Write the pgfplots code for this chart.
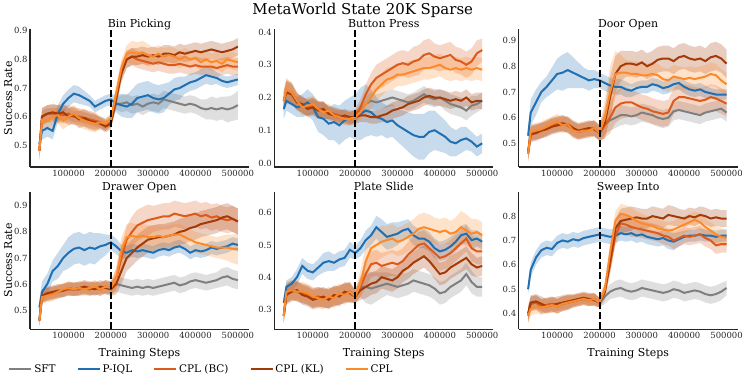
\documentclass[border=0pt]{standalone}
\usepackage{pgfplots}
\usepackage{pgfplotstable}
\pgfplotsset{compat=1.18}
\usepgfplotslibrary{fillbetween}
\usepackage{fontspec}
\setmainfont{DejaVu Serif}

\definecolor{csft}{HTML}{7F7F7F}
\definecolor{ciql}{HTML}{1F6FB2}
\definecolor{cbc}{HTML}{DC5A1A}
\definecolor{ckl}{HTML}{A33A08}
\definecolor{ccpl}{HTML}{FD8A2A}

% Bin Picking
\pgfplotstableread{
x sft sfts iql iqls bc bcs kl kls cpl cpls
31250 .48 .02 .505 .02 .48 .03 .48 .03 .48 .03
37500 .60 .02 .55 .03 .60 .03 .60 .03 .59 .03
50000 .61 .02 .56 .03 .61 .03 .61 .03 .585 .03
62500 .61 .02 .55 .03 .61 .03 .615 .03 .60 .03
75000 .61 .02 .61 .03 .61 .03 .61 .03 .605 .03
87500 .605 .02 .645 .03 .605 .03 .615 .03 .585 .03
100000 .61 .02 .665 .03 .61 .03 .60 .03 .60 .03
112500 .60 .02 .68 .03 .60 .03 .605 .03 .61 .03
125000 .60 .02 .675 .03 .60 .03 .59 .03 .595 .03
137500 .595 .02 .665 .025 .595 .03 .595 .03 .585 .03
150000 .59 .02 .655 .02 .59 .03 .585 .03 .58 .03
162500 .585 .02 .635 .02 .585 .03 .58 .03 .575 .03
175000 .58 .02 .645 .02 .58 .02 .575 .02 .58 .02
187500 .57 .02 .655 .02 .57 .02 .565 .02 .575 .02
200000 .585 .02 .66 .02 .585 .02 .575 .02 .59 .02
212500 .645 .02 .645 .03 .67 .03 .66 .03 .68 .03
225000 .645 .03 .64 .04 .76 .03 .75 .03 .77 .03
237500 .65 .03 .635 .04 .80 .03 .80 .03 .82 .03
250000 .64 .03 .645 .05 .81 .03 .81 .03 .825 .04
262500 .645 .03 .665 .05 .80 .03 .81 .03 .82 .04
275000 .635 .03 .67 .05 .795 .03 .815 .03 .825 .04
287500 .645 .03 .675 .05 .79 .03 .81 .03 .815 .04
300000 .65 .03 .665 .05 .785 .03 .815 .03 .81 .03
312500 .645 .03 .66 .05 .79 .03 .81 .03 .82 .03
325000 .66 .03 .665 .05 .785 .03 .82 .03 .81 .03
337500 .655 .03 .68 .04 .78 .03 .82 .03 .815 .03
350000 .65 .03 .695 .04 .78 .03 .815 .03 .81 .03
362500 .645 .03 .70 .04 .785 .03 .825 .03 .80 .03
375000 .64 .03 .71 .03 .78 .03 .82 .03 .81 .03
387500 .645 .03 .72 .03 .775 .03 .825 .03 .80 .03
400000 .64 .03 .725 .03 .78 .03 .83 .03 .805 .03
412500 .63 .03 .735 .03 .775 .03 .825 .03 .79 .03
425000 .625 .035 .745 .03 .775 .03 .83 .03 .80 .03
437500 .63 .04 .74 .03 .775 .03 .835 .03 .79 .03
450000 .625 .04 .735 .02 .77 .03 .83 .03 .795 .03
462500 .63 .04 .725 .02 .775 .03 .825 .03 .785 .03
475000 .625 .045 .72 .02 .78 .03 .83 .03 .80 .03
487500 .63 .045 .725 .02 .775 .03 .835 .03 .795 .03
500000 .64 .05 .73 .02 .775 .03 .845 .03 .79 .03
}\tA

% Button Press
\pgfplotstableread{
x sft sfts iql iqls bc bcs kl kls cpl cpls
31250 .19 .02 .165 .03 .19 .03 .19 .03 .19 .03
37500 .22 .03 .19 .03 .22 .035 .215 .035 .225 .035
50000 .215 .03 .18 .03 .215 .03 .21 .03 .215 .03
62500 .19 .025 .17 .03 .19 .025 .185 .025 .19 .025
75000 .175 .025 .175 .035 .175 .025 .18 .025 .17 .025
87500 .17 .025 .185 .04 .17 .025 .165 .025 .175 .025
100000 .175 .025 .17 .04 .175 .025 .17 .025 .18 .025
112500 .165 .025 .14 .045 .165 .025 .16 .025 .165 .025
125000 .16 .025 .135 .05 .16 .025 .165 .025 .155 .025
137500 .155 .02 .12 .05 .155 .02 .15 .02 .16 .02
150000 .15 .02 .125 .055 .15 .02 .145 .02 .145 .02
162500 .145 .02 .115 .06 .145 .02 .14 .02 .14 .02
175000 .14 .02 .13 .06 .14 .02 .145 .02 .135 .02
187500 .135 .02 .14 .06 .135 .02 .14 .02 .135 .02
200000 .14 .02 .14 .07 .145 .02 .14 .02 .14 .02
212500 .16 .02 .15 .08 .17 .025 .145 .02 .155 .025
225000 .18 .025 .16 .08 .21 .03 .145 .02 .18 .03
237500 .19 .025 .155 .07 .24 .035 .14 .02 .20 .035
250000 .185 .025 .14 .06 .26 .04 .14 .02 .225 .035
262500 .19 .025 .135 .05 .27 .04 .145 .02 .24 .035
275000 .195 .025 .125 .05 .28 .04 .15 .025 .255 .035
287500 .20 .025 .13 .05 .29 .04 .16 .025 .26 .035
300000 .195 .025 .115 .05 .30 .04 .165 .025 .27 .035
312500 .19 .025 .105 .055 .305 .04 .17 .025 .27 .035
325000 .185 .025 .095 .06 .30 .04 .18 .025 .275 .035
337500 .19 .025 .085 .065 .31 .045 .185 .025 .28 .035
350000 .20 .025 .08 .07 .315 .045 .19 .025 .285 .035
362500 .21 .025 .08 .07 .33 .045 .20 .025 .29 .035
375000 .20 .025 .095 .065 .335 .045 .205 .025 .29 .035
387500 .195 .025 .10 .06 .325 .04 .20 .025 .295 .035
400000 .20 .025 .09 .055 .32 .04 .20 .025 .30 .035
412500 .19 .03 .08 .05 .325 .04 .195 .025 .29 .035
425000 .18 .03 .065 .045 .33 .04 .19 .025 .285 .035
437500 .175 .03 .06 .04 .315 .04 .195 .025 .29 .035
450000 .17 .03 .07 .04 .31 .04 .19 .025 .285 .035
462500 .16 .03 .075 .035 .30 .04 .20 .025 .29 .035
475000 .175 .03 .065 .03 .31 .04 .185 .025 .285 .035
487500 .18 .025 .05 .03 .335 .04 .19 .025 .29 .035
500000 .19 .025 .06 .03 .345 .035 .19 .025 .285 .035
}\tB

% Door Open
\pgfplotstableread{
x sft sfts iql iqls bc bcs kl kls cpl cpls
31250 .46 .03 .53 .03 .46 .03 .47 .03 .46 .03
37500 .54 .03 .62 .05 .54 .03 .535 .03 .545 .03
50000 .545 .03 .66 .05 .545 .03 .54 .03 .55 .03
62500 .55 .03 .70 .04 .55 .03 .55 .03 .555 .03
75000 .56 .03 .72 .04 .56 .03 .555 .03 .565 .03
87500 .57 .03 .745 .05 .57 .03 .565 .03 .575 .03
100000 .575 .03 .77 .06 .575 .03 .57 .03 .585 .03
112500 .58 .03 .775 .07 .58 .03 .575 .03 .57 .03
125000 .57 .03 .785 .07 .57 .03 .575 .03 .575 .03
137500 .555 .03 .775 .06 .555 .03 .56 .03 .55 .03
150000 .545 .03 .765 .05 .545 .03 .55 .03 .545 .03
162500 .55 .03 .755 .04 .55 .03 .555 .03 .55 .03
175000 .555 .03 .745 .04 .555 .03 .56 .03 .55 .03
187500 .56 .03 .75 .035 .56 .03 .555 .03 .56 .03
200000 .54 .03 .745 .03 .54 .03 .54 .03 .54 .03
212500 .575 .04 .735 .03 .57 .05 .58 .06 .60 .07
225000 .59 .04 .725 .03 .60 .06 .68 .08 .70 .10
237500 .60 .04 .72 .03 .64 .06 .77 .07 .77 .09
250000 .61 .04 .72 .03 .655 .06 .80 .06 .775 .07
262500 .61 .035 .71 .03 .66 .06 .81 .05 .775 .05
275000 .605 .035 .705 .025 .66 .05 .81 .05 .77 .05
287500 .61 .035 .715 .025 .65 .05 .805 .05 .77 .05
300000 .62 .035 .72 .025 .64 .05 .815 .05 .765 .045
312500 .615 .035 .72 .025 .635 .05 .80 .05 .765 .045
325000 .61 .035 .73 .025 .625 .05 .81 .05 .77 .045
337500 .60 .035 .725 .025 .62 .05 .825 .05 .765 .045
350000 .595 .035 .715 .025 .615 .05 .83 .05 .75 .045
362500 .60 .035 .72 .025 .62 .05 .83 .05 .745 .045
375000 .625 .035 .73 .025 .665 .05 .82 .05 .76 .045
387500 .63 .035 .735 .025 .68 .05 .835 .05 .755 .045
400000 .625 .035 .72 .025 .68 .05 .84 .05 .75 .045
412500 .62 .035 .71 .025 .675 .05 .83 .05 .755 .045
425000 .615 .035 .705 .025 .67 .05 .825 .05 .75 .045
437500 .61 .035 .71 .025 .665 .05 .83 .05 .755 .045
450000 .62 .035 .70 .025 .67 .05 .82 .05 .76 .045
462500 .625 .035 .695 .02 .68 .05 .835 .055 .77 .045
475000 .63 .035 .69 .02 .675 .05 .84 .055 .765 .045
487500 .635 .035 .69 .02 .665 .05 .83 .055 .745 .045
500000 .62 .035 .69 .02 .655 .05 .81 .055 .73 .045
}\tC

% Drawer Open
\pgfplotstableread{
x sft sfts iql iqls bc bcs kl kls cpl cpls
31250 .46 .02 .51 .03 .46 .02 .46 .02 .46 .02
37500 .555 .025 .57 .04 .555 .025 .555 .025 .55 .025
50000 .56 .025 .60 .04 .56 .025 .565 .025 .555 .025
62500 .565 .025 .65 .04 .565 .025 .57 .025 .56 .025
75000 .57 .025 .67 .05 .57 .025 .575 .025 .57 .025
87500 .575 .025 .70 .05 .575 .025 .575 .025 .58 .025
100000 .58 .025 .72 .06 .58 .025 .585 .025 .585 .025
112500 .58 .025 .735 .06 .58 .025 .58 .025 .58 .025
125000 .58 .025 .74 .06 .58 .025 .585 .025 .585 .025
137500 .585 .025 .73 .06 .585 .025 .59 .025 .58 .025
150000 .58 .025 .74 .06 .58 .025 .585 .025 .585 .025
162500 .585 .025 .735 .06 .585 .025 .58 .025 .59 .025
175000 .58 .025 .745 .05 .58 .025 .59 .025 .58 .025
187500 .59 .025 .75 .04 .59 .025 .585 .025 .59 .025
200000 .585 .025 .76 .03 .585 .025 .58 .025 .585 .025
212500 .60 .03 .745 .03 .62 .04 .60 .04 .62 .04
225000 .595 .03 .725 .025 .70 .05 .65 .05 .73 .05
237500 .59 .03 .72 .025 .77 .05 .70 .05 .78 .05
250000 .585 .03 .73 .025 .80 .06 .72 .05 .785 .05
262500 .59 .03 .725 .025 .825 .06 .74 .05 .78 .045
275000 .585 .03 .73 .025 .835 .06 .755 .05 .785 .045
287500 .59 .03 .725 .025 .845 .06 .77 .05 .78 .045
300000 .585 .03 .72 .025 .85 .05 .775 .05 .78 .045
312500 .59 .03 .73 .025 .855 .05 .78 .05 .785 .04
325000 .595 .03 .735 .025 .86 .05 .78 .05 .78 .04
337500 .60 .03 .73 .025 .86 .05 .785 .05 .785 .04
350000 .605 .03 .74 .025 .87 .05 .79 .05 .79 .04
362500 .595 .03 .745 .025 .865 .05 .80 .05 .79 .04
375000 .60 .03 .735 .025 .86 .05 .805 .05 .78 .04
387500 .61 .03 .72 .025 .865 .05 .815 .05 .77 .04
400000 .615 .03 .73 .025 .87 .05 .82 .05 .76 .04
412500 .61 .03 .725 .025 .86 .05 .83 .05 .755 .04
425000 .605 .03 .73 .025 .865 .05 .835 .05 .75 .04
437500 .61 .03 .74 .025 .855 .05 .84 .05 .745 .04
450000 .615 .03 .735 .025 .86 .05 .845 .05 .74 .04
462500 .625 .035 .74 .025 .85 .05 .855 .05 .74 .045
475000 .63 .035 .745 .025 .845 .05 .86 .05 .74 .05
487500 .62 .035 .755 .025 .85 .05 .85 .05 .735 .055
500000 .615 .035 .75 .025 .84 .05 .84 .05 .735 .06
}\tD

% Plate Slide
\pgfplotstableread{
x sft sfts iql iqls bc bcs kl kls cpl cpls
31250 .28 .02 .32 .02 .28 .02 .28 .02 .28 .02
37500 .35 .03 .37 .02 .35 .03 .345 .03 .355 .03
50000 .36 .03 .38 .02 .36 .03 .355 .03 .36 .03
62500 .355 .03 .40 .025 .355 .03 .36 .03 .355 .03
75000 .35 .03 .435 .025 .35 .03 .345 .03 .355 .03
87500 .345 .03 .42 .025 .345 .03 .34 .03 .35 .03
100000 .335 .03 .415 .025 .335 .03 .33 .03 .34 .03
112500 .34 .03 .43 .025 .34 .03 .335 .03 .335 .03
125000 .335 .03 .445 .03 .335 .03 .34 .03 .33 .03
137500 .335 .03 .45 .03 .335 .03 .33 .03 .34 .03
150000 .34 .03 .445 .025 .34 .03 .345 .03 .335 .03
162500 .345 .03 .455 .025 .345 .03 .34 .03 .35 .03
175000 .35 .03 .46 .025 .35 .03 .355 .03 .345 .03
187500 .355 .03 .485 .025 .355 .03 .35 .03 .355 .03
200000 .34 .02 .475 .02 .34 .02 .34 .02 .34 .02
212500 .37 .03 .49 .025 .37 .03 .36 .03 .38 .04
225000 .37 .05 .515 .03 .41 .04 .37 .035 .45 .05
237500 .365 .05 .53 .03 .44 .04 .38 .035 .49 .05
250000 .37 .045 .555 .035 .445 .04 .385 .035 .50 .05
262500 .375 .04 .54 .04 .435 .04 .40 .035 .51 .05
275000 .38 .035 .525 .04 .44 .04 .395 .035 .515 .045
287500 .375 .035 .53 .04 .445 .04 .39 .035 .52 .045
300000 .37 .035 .535 .035 .44 .04 .40 .035 .51 .045
312500 .375 .035 .545 .03 .45 .04 .42 .035 .515 .045
325000 .38 .035 .55 .03 .47 .04 .43 .035 .525 .045
337500 .39 .035 .53 .03 .485 .04 .445 .035 .535 .045
350000 .385 .035 .52 .03 .50 .04 .455 .035 .55 .045
362500 .38 .035 .52 .03 .505 .04 .465 .035 .555 .045
375000 .375 .035 .51 .03 .49 .04 .45 .035 .55 .045
387500 .365 .035 .49 .03 .475 .04 .43 .035 .545 .04
400000 .35 .035 .48 .03 .46 .04 .41 .035 .54 .04
412500 .355 .035 .485 .03 .465 .04 .415 .035 .545 .04
425000 .37 .035 .495 .03 .475 .04 .43 .035 .535 .04
437500 .38 .035 .51 .03 .49 .04 .44 .035 .54 .045
450000 .39 .035 .53 .03 .505 .04 .45 .035 .555 .05
462500 .41 .035 .535 .03 .52 .04 .46 .035 .545 .05
475000 .385 .035 .515 .03 .49 .04 .44 .035 .535 .045
487500 .37 .03 .52 .025 .48 .04 .43 .03 .54 .04
500000 .37 .03 .51 .025 .48 .04 .435 .03 .53 .04
}\tE

% Sweep Into
\pgfplotstableread{
x sft sfts iql iqls bc bcs kl kls cpl cpls
31250 .39 .03 .50 .02 .40 .03 .40 .03 .39 .03
37500 .44 .03 .58 .03 .44 .03 .445 .03 .42 .03
50000 .445 .03 .63 .03 .445 .03 .45 .03 .43 .03
62500 .43 .03 .66 .03 .43 .03 .44 .03 .425 .03
75000 .435 .03 .67 .03 .435 .03 .43 .03 .43 .03
87500 .44 .03 .665 .03 .44 .03 .435 .03 .435 .03
100000 .43 .03 .69 .03 .43 .03 .44 .03 .43 .03
112500 .44 .03 .70 .03 .44 .03 .445 .03 .44 .03
125000 .445 .03 .695 .03 .445 .03 .45 .03 .445 .03
137500 .45 .025 .705 .03 .45 .025 .455 .025 .45 .025
150000 .455 .025 .70 .03 .455 .025 .46 .025 .455 .025
162500 .46 .025 .71 .03 .46 .025 .465 .025 .46 .025
175000 .455 .025 .715 .03 .455 .025 .46 .025 .455 .025
187500 .46 .025 .72 .03 .46 .025 .455 .025 .46 .025
200000 .445 .02 .725 .03 .445 .02 .445 .02 .445 .02
212500 .47 .03 .72 .03 .49 .03 .49 .03 .50 .03
225000 .49 .03 .715 .03 .60 .04 .62 .04 .65 .04
237500 .50 .035 .72 .03 .72 .04 .75 .04 .78 .04
250000 .505 .035 .73 .03 .77 .04 .78 .05 .81 .04
262500 .495 .035 .725 .03 .765 .04 .785 .05 .805 .04
275000 .49 .035 .73 .03 .755 .04 .79 .05 .795 .04
287500 .495 .035 .72 .03 .75 .035 .795 .04 .78 .04
300000 .505 .035 .725 .03 .745 .035 .79 .04 .77 .04
312500 .50 .035 .715 .03 .74 .035 .79 .04 .765 .035
325000 .495 .035 .71 .03 .735 .035 .80 .04 .76 .035
337500 .49 .035 .705 .03 .73 .035 .795 .04 .75 .035
350000 .485 .035 .71 .03 .72 .035 .79 .04 .745 .035
362500 .49 .035 .70 .035 .715 .035 .805 .04 .74 .035
375000 .50 .035 .695 .035 .70 .035 .80 .04 .745 .035
387500 .495 .035 .705 .03 .71 .035 .795 .035 .755 .035
400000 .485 .035 .715 .025 .72 .035 .79 .035 .765 .035
412500 .49 .035 .72 .025 .715 .035 .80 .035 .775 .035
425000 .495 .035 .72 .025 .72 .035 .795 .035 .785 .035
437500 .49 .035 .725 .025 .725 .035 .805 .035 .775 .035
450000 .48 .035 .72 .025 .71 .035 .80 .035 .755 .035
462500 .475 .035 .72 .025 .70 .035 .79 .035 .74 .035
475000 .48 .035 .715 .025 .68 .035 .795 .035 .725 .035
487500 .49 .035 .72 .025 .685 .035 .79 .035 .715 .035
500000 .505 .03 .72 .025 .685 .035 .79 .035 .71 .035
}\tF

\newcommand{\series}[3]{%
  \addplot[name path=U#2, draw=none, forget plot] table[x=x, y expr=\thisrow{#2}+\thisrow{#2s}] {#1};
  \addplot[name path=L#2, draw=none, forget plot] table[x=x, y expr=\thisrow{#2}-\thisrow{#2s}] {#1};
  \addplot[fill=#3, fill opacity=0.25, draw=none, forget plot] fill between[of=U#2 and L#2];
  \addplot[color=#3, line width=2bp] table[x=x, y=#2] {#1};
}
\newcommand{\allseries}[1]{%
  \series{#1}{sft}{csft}
  \series{#1}{iql}{ciql}
  \series{#1}{bc}{cbc}
  \series{#1}{kl}{ckl}
  \series{#1}{cpl}{ccpl}
}
\newcommand{\refline}[2]{%
  \addplot[black, line width=2bp, dash pattern=on 7bp off 3bp, forget plot] coordinates {(200000,#1) (200000,#2)};
}

\pgfplotsset{
  panel/.style={
    scale only axis, width=219bp, height=137.5bp,
    anchor=south west,
    xmin=9000, xmax=526000,
    axis x line*=bottom, axis y line*=left,
    axis line style={-, line width=1.3bp, draw=black!85},
    xtick={100000,200000,300000,400000,500000},
    scaled x ticks=false, scaled y ticks=false,
    major tick length=0pt, minor tick num=0,
    /pgf/number format/assume math mode=true,
    tick label style={font=\fontsize{8.5}{10}\selectfont, text=black!85},
    xticklabel style={/pgf/number format/fixed, /pgf/number format/1000 sep={}, yshift=0bp},
    yticklabel style={/pgf/number format/fixed, /pgf/number format/fixed zerofill, /pgf/number format/precision=1, xshift=1bp},
    title style={font=\fontsize{11}{13}\selectfont, at={(0.5,1)}, anchor=base, yshift=-4.5bp},
    label style={font=\fontsize{11}{13}\selectfont},
    ylabel style={at={(axis description cs:-0.1,0.5)}, anchor=center},
    xlabel style={at={(axis description cs:0.5,-0.177)}, anchor=center},
  }
}

\begin{document}
\begin{tikzpicture}
\path (0,0) rectangle (746bp,373bp);
\node[font=\fontsize{15}{17}\selectfont, anchor=base] at (363bp,362bp) {MetaWorld State 20K Sparse};

\begin{axis}[panel, at={(30bp,209.7bp)}, ymin=0.424, ymax=0.905, ytick={0.5,0.6,0.7,0.8,0.9}, title={Bin Picking}, ylabel={Success Rate}]
\allseries{\tA}
\refline{0.424}{0.905}
\end{axis}

\begin{axis}[panel, at={(274.5bp,209.7bp)}, ymin=-0.012, ymax=0.408, ytick={0,0.1,0.2,0.3,0.4}, title={Button Press}]
\allseries{\tB}
\refline{-0.012}{0.408}
\end{axis}

\begin{axis}[panel, at={(519bp,209.7bp)}, ymin=0.409, ymax=0.943, ytick={0.5,0.6,0.7,0.8,0.9}, title={Door Open}]
\allseries{\tC}
\refline{0.409}{0.943}
\end{axis}

\begin{axis}[panel, at={(30bp,47.3bp)}, ymin=0.427, ymax=0.954, ytick={0.5,0.6,0.7,0.8,0.9}, title={Drawer Open}, ylabel={Success Rate}, xlabel={Training Steps},
  legend columns=5,
  legend image code/.code={\draw[#1] (0bp,0bp) -- (22bp,0bp);},
  legend style={at={(axis description cs:-0.1,-0.293)}, anchor=west, draw=none, fill=none, inner sep=0pt,
    font=\fontsize{10.5}{12}\selectfont, /tikz/every even column/.append style={column sep=19bp}}]
\allseries{\tD}
\refline{0.427}{0.954}
\legend{SFT, P-IQL, CPL (BC), CPL (KL), CPL}
\end{axis}

\begin{axis}[panel, at={(274.5bp,47.3bp)}, ymin=0.239, ymax=0.665, ytick={0.3,0.4,0.5,0.6}, title={Plate Slide}, xlabel={Training Steps}]
\allseries{\tE}
\refline{0.239}{0.665}
\end{axis}

\begin{axis}[panel, at={(519bp,47.3bp)}, ymin=0.336, ymax=0.90, ytick={0.4,0.5,0.6,0.7,0.8}, title={Sweep Into}, xlabel={Training Steps}]
\allseries{\tF}
\refline{0.336}{0.90}
\end{axis}
\end{tikzpicture}
\end{document}
